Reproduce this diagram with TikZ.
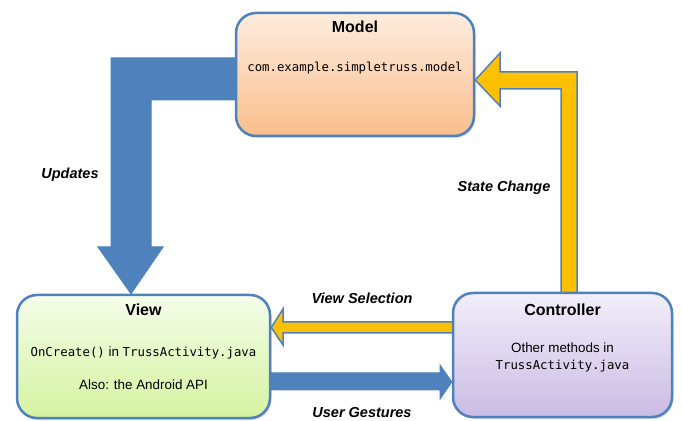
\documentclass[tikz,border=0pt]{standalone}
\usepackage{fontspec}
\setmainfont{Liberation Sans}
\setmonofont[Scale=0.92]{DejaVu Sans Mono}
\usepackage{tikz}
\usetikzlibrary{backgrounds, positioning, shadows}

\definecolor{edgeblue}{RGB}{79,129,189}
\definecolor{flowgold}{RGB}{255,192,0}
\definecolor{modeltop}{RGB}{253,236,222}
\definecolor{modelbot}{RGB}{250,190,140}
\definecolor{viewtop}{RGB}{244,253,234}
\definecolor{viewbot}{RGB}{214,243,160}
\definecolor{ctrltop}{RGB}{242,238,250}
\definecolor{ctrlbot}{RGB}{203,188,228}

\begin{document}
\begin{tikzpicture}[x=1pt, y=1pt,
    box_style/.style={rectangle, rounded corners=20pt, draw=edgeblue, line width=2.5pt, inner sep=0pt,
        drop shadow={opacity=0.25, shadow xshift=1.5pt, shadow yshift=-2pt}},
    title_style/.style={font=\fontsize{16}{19}\selectfont\bfseries},
    text_style/.style={font=\fontsize{13.4}{17}\selectfont, align=center},
    label_style/.style={font=\fontsize{14.5}{17}\selectfont\bfseries\itshape},
    blue_arrow/.style={fill=edgeblue, draw=edgeblue, line width=1pt, line join=miter},
    gold_arrow/.style={fill=flowgold, draw=edgeblue, line width=1.5pt, line join=miter}
]

\pgfdeclarelayer{bg}    % arrows go behind the boxes
\pgfsetlayers{bg,main}

\useasboundingbox (0,0) rectangle (682,420);

% Boxes
\node[box_style, top color=modeltop, bottom color=modelbot, minimum width=238pt, minimum height=123pt] (model) at (355,345.5) {};
\node[box_style, top color=viewtop, bottom color=viewbot, minimum width=253pt, minimum height=123pt] (view) at (143.5,63.5) {};
\node[box_style, top color=ctrltop, bottom color=ctrlbot, minimum width=219pt, minimum height=124pt] (ctrl) at (562.5,65) {};

% Box texts
\node[title_style] (model_title) at (355,393) {Model};
\node[text_style] (model_pkg) at (355,352) {\ttfamily com.example.simpletruss.model};

\node[title_style] (view_title) at (143.5,110) {View};
\node[text_style] (view_src) at (143.5,67) {\texttt{OnCreate()} in \texttt{TrussActivity.java}};
\node[text_style] (view_api) at (143.5,35) {Also: the Android API};

\node[title_style] (ctrl_title) at (562.5,110) {Controller};
\node[text_style] (ctrl_src) at (562.5,62.5) {Other methods in\\\texttt{TrussActivity.java}};

% Block arrows
\begin{pgfonlayer}{bg}
    % model -> view
    \draw[blue_arrow] (model.center |- 0,362) -- (111,362) -- (111,173) -- (98,173) -- (view.north -| 131,0)
        -- (163,173) -- (151,173) -- (151,320) -- (model.center |- 0,320) -- cycle;
    % controller -> model
    \draw[gold_arrow] (ctrl.center -| 561,0) -- (561,331) -- (500,331) -- (500,314) -- (model.east |- 0,340)
        -- (500,367) -- (500,348) -- (577,348) -- (ctrl.center -| 577,0) -- cycle;
    % controller -> view
    \draw[gold_arrow] (ctrl.center |- 0,98) -- (283,98) -- (283,111) -- (view.east |- 0,92.5)
        -- (283,75) -- (283,87) -- (ctrl.center |- 0,87) -- cycle;
    % view -> controller
    \draw[blue_arrow] (view.center |- 0,47) -- (440,47) -- (440,55) -- (ctrl.west |- 0,38)
        -- (440,21) -- (440,30) -- (view.center |- 0,30) -- cycle;
\end{pgfonlayer}

% Arrow labels
\node[label_style] (updates) at (70,245) {Updates};
\node[label_style] (state_change) at (504,232) {State Change};
\node[label_style] (view_selection) at (362,122) {View Selection};
\node[label_style] (user_gestures) at (362,7) {User Gestures};

\end{tikzpicture}
\end{document}
